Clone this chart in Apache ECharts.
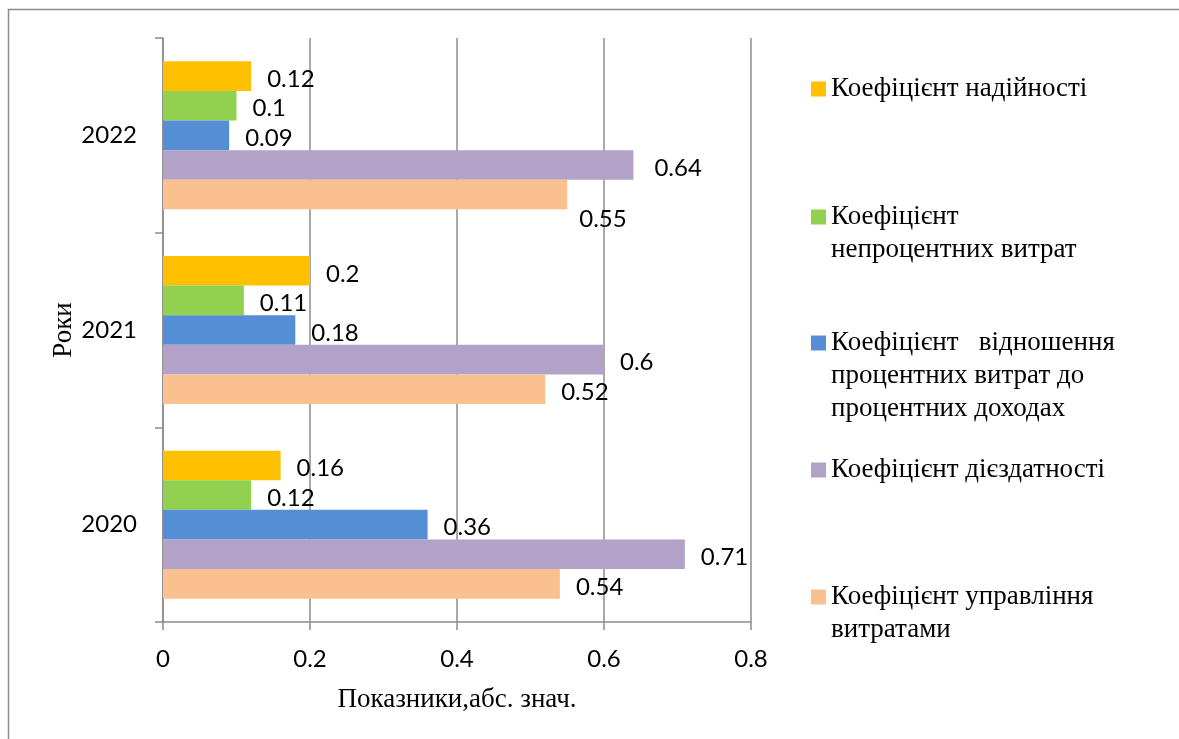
<!DOCTYPE html>
<html>
<head>
<meta charset="utf-8">
<script src="https://cdn.jsdelivr.net/npm/echarts@6/dist/echarts.min.js"></script>
<style>
  html, body { margin: 0; padding: 0; background: #ffffff; }
  #chart { width: 1179px; height: 739px; }
</style>
</head>
<body>
<div id="chart"></div>
<script>
// Years on the category axis (bottom to top)
const years = ['2020', '2021', '2022'];

// Series names, listed top to bottom inside each year group
const nameReliability = 'Коефіцієнт надійності';
const nameNonInterest = 'Коефіцієнт\nнепроцентних витрат';
const nameInterestRatio = 'Коефіцієнт   відношення\nпроцентних витрат до\nпроцентних доходах';
const nameEfficiency = 'Коефіцієнт дієздатності';
const nameCostManagement = 'Коефіцієнт управління\nвитратами';

// Values per year: 2020, 2021, 2022
const reliability = [0.16, 0.2, 0.12];
const nonInterest = [0.12, 0.11, 0.1];
const interestRatio = [0.36, 0.18, 0.09];
const efficiency = [0.71, 0.6, 0.64];
const costManagement = [0.54, 0.52, 0.55];

// Value axis ticks
const xMin = 0, xMax = 0.8, xStep = 0.2;

const colors = {
  reliability: '#FFC000',
  nonInterest: '#92D050',
  interestRatio: '#558ED5',
  efficiency: '#B3A2C7',
  costManagement: '#FAC090'
};

const gridColor = '#8c8c8c';
const numFont = 'Lato, "Liberation Sans", sans-serif';
const serifFont = '"Liberation Serif", "DejaVu Serif", serif';

// A few labels sit off their default spot
const labelTweaks = {
  efficiency: { 2: { distance: 21 } },
  costManagement: { 2: { distance: 12, offset: [0, 25] } }
};

function makeSeries(key, name, values) {
  const tweaks = labelTweaks[key] || {};
  return {
    name: name,
    type: 'bar',
    barGap: '0%',
    barCategoryGap: '24%',
    itemStyle: { color: colors[key] },
    label: {
      show: true,
      position: 'right',
      distance: 16,
      offset: [0, 3],
      color: '#000',
      fontFamily: numFont,
      fontSize: 24
    },
    data: values.map((v, i) => tweaks[i] ? { value: v, label: tweaks[i] } : v)
  };
}

// Legend entries on the right, one block each; blank lines above the name
// keep the marker level with the first text line
const LINE_H = 33;
function legendAt(name, centerY) {
  const lines = name.split('\n').length;
  const boxH = (2 * lines - 1) * LINE_H;
  return {
    data: [name],
    orient: 'vertical',
    left: 811,
    top: centerY - boxH / 2,
    padding: 0,
    icon: 'rect',
    itemWidth: 15,
    itemHeight: 15,
    selectedMode: false,
    formatter: n => '\n'.repeat(lines - 1) + n,
    textStyle: {
      fontFamily: serifFont,
      fontSize: 27,
      color: '#000',
      lineHeight: LINE_H
    }
  };
}

const chart = echarts.init(document.getElementById('chart'));
chart.setOption({
  animation: false,
  backgroundColor: '#ffffff',
  graphic: [{
    type: 'rect',
    shape: { x: 8.5, y: 9.5, width: 1400, height: 1000 },
    style: { fill: 'none', stroke: gridColor, lineWidth: 1.5 },
    silent: true
  }],
  grid: { left: 163, right: 428, top: 38, bottom: 117, containLabel: false },
  legend: [
    legendAt(nameReliability, 89),
    legendAt(nameNonInterest, 217),
    legendAt(nameInterestRatio, 343),
    legendAt(nameEfficiency, 470),
    legendAt(nameCostManagement, 597)
  ],
  xAxis: {
    type: 'value',
    min: xMin,
    max: xMax,
    interval: xStep,
    name: 'Показники,абс. знач.',
    nameLocation: 'middle',
    nameGap: 64,
    nameTextStyle: { fontFamily: serifFont, fontSize: 27, color: '#000' },
    axisLine: { show: true, lineStyle: { color: gridColor, width: 1.5 } },
    axisTick: { show: true, length: 8, lineStyle: { color: gridColor, width: 1.5 } },
    axisLabel: {
      color: '#000', fontFamily: numFont, fontSize: 24, margin: 25,
      formatter: v => String(Math.round(v * 10) / 10)
    },
    splitLine: { show: true, lineStyle: { color: gridColor, width: 1.5 } }
  },
  yAxis: {
    type: 'category',
    data: years,
    name: 'Роки',
    nameLocation: 'middle',
    nameGap: 86,
    nameTextStyle: { fontFamily: serifFont, fontSize: 27, color: '#000' },
    axisLine: { show: true, lineStyle: { color: gridColor, width: 1.5 } },
    axisTick: { show: true, length: 8, inside: false, lineStyle: { color: gridColor, width: 1.5 } },
    axisLabel: { color: '#000', fontFamily: numFont, fontSize: 24, margin: 26 },
    splitLine: { show: false }
  },
  series: [
    makeSeries('reliability', nameReliability, reliability),
    makeSeries('nonInterest', nameNonInterest, nonInterest),
    makeSeries('interestRatio', nameInterestRatio, interestRatio),
    makeSeries('efficiency', nameEfficiency, efficiency),
    makeSeries('costManagement', nameCostManagement, costManagement)
  ]
});
</script>
</body>
</html>
